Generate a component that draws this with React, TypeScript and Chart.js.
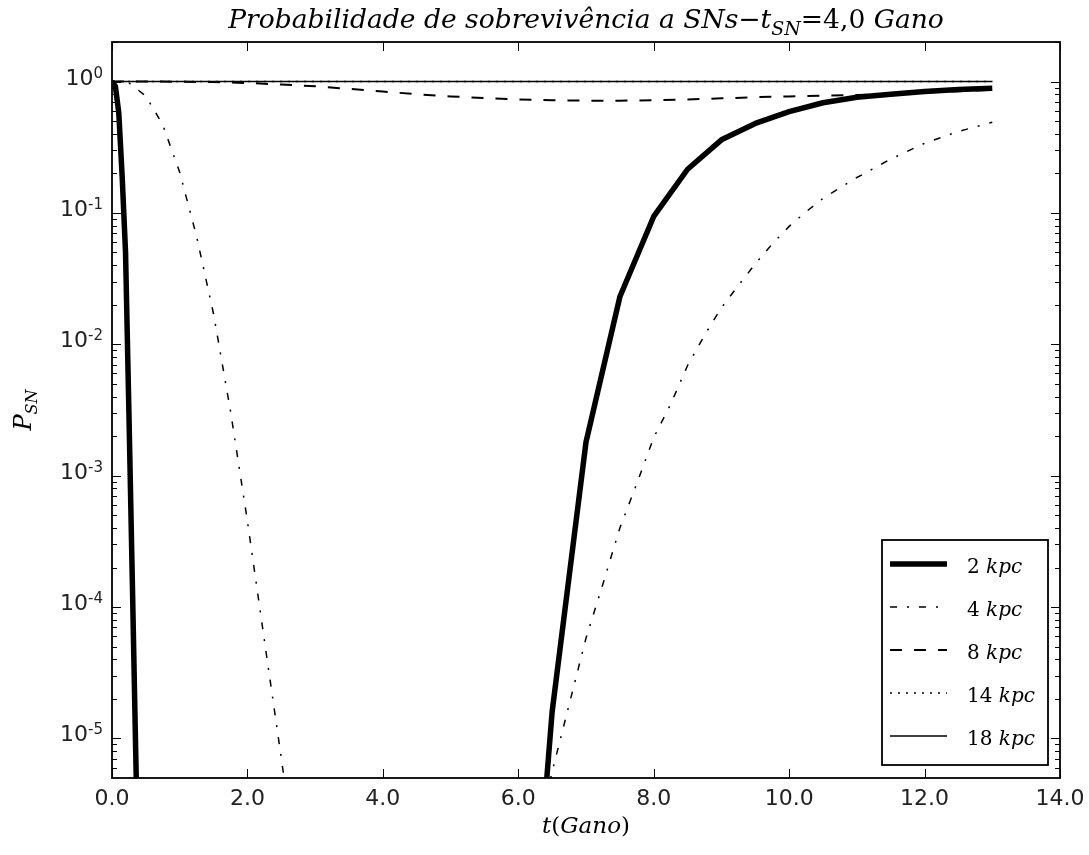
import React, { useEffect, useRef } from 'react';
import { Chart, registerables } from 'chart.js';

Chart.register(...registerables);

// ---------- data ----------
const seriesLabels = ['2', '4', '8', '14', '18'];

const t2 = [0, 0.05, 0.1, 0.15, 0.2, 0.25, 0.3, 0.35, 0.4, 0.5, 1, 3, 5, 6, 6.5, 7, 7.5, 8, 8.5, 9, 9.5, 10, 10.5, 11, 11.5, 12, 12.5, 13];
const p2 = [1, 0.92, 0.58, 0.19, 0.05, 3e-3, 1.6e-4, 8e-6, 4e-7, 1e-9, 1e-25, 1e-40, 1e-25, 1e-8, 1.6e-5, 1.8e-3, 0.023, 0.094, 0.215, 0.36, 0.48, 0.59, 0.69, 0.76, 0.8, 0.84, 0.87, 0.89];

const t4 = [0, 0.25, 0.5, 0.75, 1, 1.25, 1.5, 1.75, 2, 2.25, 2.5, 2.75, 3, 4, 5, 6, 6.25, 6.5, 6.75, 7, 7.25, 7.5, 7.75, 8, 8.25, 8.5, 8.75, 9, 9.25, 9.5, 9.75, 10, 10.25, 10.5, 10.75, 11, 11.5, 12, 12.5, 13];
const p4 = [1, 0.977, 0.776, 0.468, 0.204, 0.066, 0.017, 3.1e-3, 4.5e-4, 5.6e-5, 7.1e-6, 8e-7, 6e-8, 1e-14, 1e-13, 3.2e-7, 1.4e-6, 5.6e-6, 1.8e-5, 5.8e-5, 1.5e-4, 4e-4, 8.7e-4, 1.95e-3, 3.5e-3, 6.9e-3, 0.0117, 0.019, 0.028, 0.041, 0.058, 0.079, 0.102, 0.129, 0.155, 0.186, 0.257, 0.339, 0.417, 0.49];

const t8 = [0, 0.5, 1, 1.5, 2, 2.5, 3, 3.5, 4, 4.5, 5, 5.5, 6, 6.5, 7, 7.5, 8, 8.5, 9, 9.5, 10, 10.5, 11, 11.5, 12, 12.5, 13];
const p8 = [1, 1, 0.998, 0.99, 0.975, 0.95, 0.92, 0.88, 0.84, 0.8, 0.77, 0.75, 0.73, 0.72, 0.715, 0.715, 0.72, 0.73, 0.745, 0.76, 0.77, 0.78, 0.79, 0.805, 0.825, 0.845, 0.865];

const t14 = [0, 13];
const p14 = [1, 1];

const t18 = [0, 13];
const p18 = [1, 1];

const xTickValues = [0, 2, 4, 6, 8, 10, 12, 14];
const xTickLabels = ['0.0', '2.0', '4.0', '6.0', '8.0', '10.0', '12.0', '14.0'];
const yTickExponents = [0, -1, -2, -3, -4, -5];
const yTickLabels = ['0', '-1', '-2', '-3', '-4', '-5'];

const Y_MIN = 5e-6;
const Y_MAX = 2;

// ---------- styles ----------
const seriesStyles = [
  { width: 5.5, dash: [] as number[] },
  { width: 1.5, dash: [7, 10, 2, 10] },
  { width: 2, dash: [12, 12] },
  { width: 1.5, dash: [2, 6] },
  { width: 1.5, dash: [] as number[] },
];

const SANS = '"DejaVu Sans", sans-serif';
const SERIF = '"DejaVu Serif", serif';

type Seg = { text: string; font: string; dy?: number };

function segWidth(ctx: CanvasRenderingContext2D, segs: Seg[]) {
  let w = 0;
  for (const s of segs) {
    ctx.font = s.font;
    w += ctx.measureText(s.text).width;
  }
  return w;
}

function drawSegs(ctx: CanvasRenderingContext2D, segs: Seg[], x: number, y: number, align: 'left' | 'center' | 'right') {
  const w = segWidth(ctx, segs);
  let cx = align === 'left' ? x : align === 'center' ? x - w / 2 : x - w;
  ctx.textAlign = 'left';
  ctx.textBaseline = 'alphabetic';
  for (const s of segs) {
    ctx.font = s.font;
    ctx.fillText(s.text, cx, y + (s.dy || 0));
    cx += ctx.measureText(s.text).width;
  }
}

function titleSegs(size: number): Seg[] {
  const it = `italic ${size}px ${SERIF}`;
  const up = `${size}px ${SERIF}`;
  const sub = `italic ${Math.round(size * 0.7)}px ${SERIF}`;
  return [
    { text: 'Probabilidade de sobrevivência a SNs', font: it },
    { text: '−', font: up },
    { text: 't', font: it },
    { text: 'SN', font: sub, dy: size * 0.25 },
    { text: '=4,0 ', font: up },
    { text: 'Gano', font: it },
  ];
}

const decorPlugin = {
  id: 'mplDecor',
  afterDraw(chart: any) {
    const ctx: CanvasRenderingContext2D = chart.ctx;
    const ca = chart.chartArea;
    const xs = chart.scales.x;
    const ys = chart.scales.y;
    ctx.save();
    ctx.fillStyle = '#000';
    ctx.strokeStyle = '#000';

    // ticks
    ctx.lineWidth = 1;
    ctx.beginPath();
    xTickValues.forEach((v) => {
      const px = Math.round(xs.getPixelForValue(v)) + 0.5;
      ctx.moveTo(px, ca.bottom);
      ctx.lineTo(px, ca.bottom - 9);
      ctx.moveTo(px, ca.top);
      ctx.lineTo(px, ca.top + 9);
    });
    for (let e = -6; e <= 0; e++) {
      for (let k = 1; k <= 9; k++) {
        const v = k * Math.pow(10, e);
        if (v < Y_MIN || v > Y_MAX) continue;
        const py = Math.round(ys.getPixelForValue(v)) + 0.5;
        const len = k === 1 ? 9 : 5;
        ctx.moveTo(ca.left, py);
        ctx.lineTo(ca.left + len, py);
        ctx.moveTo(ca.right, py);
        ctx.lineTo(ca.right - len, py);
      }
    }
    ctx.stroke();

    // frame
    ctx.lineWidth = 1.8;
    ctx.strokeRect(ca.left, ca.top, ca.right - ca.left, ca.bottom - ca.top);

    // x tick labels
    ctx.font = `22px ${SANS}`;
    ctx.fillStyle = '#222';
    ctx.textAlign = 'center';
    ctx.textBaseline = 'alphabetic';
    xTickValues.forEach((v, i) => {
      ctx.fillText(xTickLabels[i], xs.getPixelForValue(v), ca.bottom + 27);
    });

    // y tick labels
    yTickExponents.forEach((e, i) => {
      const py = ys.getPixelForValue(Math.pow(10, e));
      const supFont = `15px ${SANS}`;
      ctx.font = supFont;
      const supW = ctx.measureText(yTickLabels[i]).width;
      const right = ca.left - 9;
      ctx.textAlign = 'right';
      ctx.fillText(yTickLabels[i], right, py - 4);
      ctx.font = `22px ${SANS}`;
      ctx.fillText('10', right - supW, py + 3);
    });

    // title
    ctx.fillStyle = '#000';
    const w0 = segWidth(ctx, titleSegs(24));
    const tsize = (24 * 716) / w0;
    drawSegs(ctx, titleSegs(tsize), (ca.left + ca.right) / 2, 28, 'center');

    // x label
    const xl = 23;
    drawSegs(
      ctx,
      [
        { text: 't', font: `italic ${xl}px ${SERIF}` },
        { text: '(', font: `${xl}px ${SERIF}` },
        { text: 'Gano', font: `italic ${xl}px ${SERIF}` },
        { text: ')', font: `${xl}px ${SERIF}` },
      ],
      (ca.left + ca.right) / 2,
      833,
      'center'
    );

    // y label
    ctx.save();
    ctx.translate(31, (ca.top + ca.bottom) / 2);
    ctx.rotate(-Math.PI / 2);
    drawSegs(
      ctx,
      [
        { text: 'P', font: `italic 24px ${SERIF}` },
        { text: 'SN', font: `italic 16px ${SERIF}`, dy: 6 },
      ],
      0,
      0,
      'center'
    );
    ctx.restore();

    // legend
    const lx0 = 882, ly0 = 540, lx1 = 1048, ly1 = 765;
    ctx.fillStyle = '#fff';
    ctx.fillRect(lx0, ly0, lx1 - lx0, ly1 - ly0);
    ctx.lineWidth = 1.8;
    ctx.strokeStyle = '#000';
    ctx.strokeRect(lx0, ly0, lx1 - lx0, ly1 - ly0);
    seriesLabels.forEach((lab, i) => {
      const rowY = 566 + i * 43;
      const st = seriesStyles[i];
      ctx.beginPath();
      ctx.lineWidth = st.width;
      ctx.setLineDash(st.dash);
      ctx.moveTo(890, rowY - 2);
      ctx.lineTo(947, rowY - 2);
      ctx.stroke();
      ctx.setLineDash([]);
      ctx.fillStyle = '#000';
      drawSegs(
        ctx,
        [
          { text: lab + ' ', font: `20px ${SERIF}` },
          { text: 'kpc', font: `italic 20px ${SERIF}` },
        ],
        967,
        rowY + 7,
        'left'
      );
    });

    ctx.restore();
  },
};

function mkData(ts: number[], ps: number[]) {
  return ts.map((t, i) => ({ x: t, y: ps[i] }));
}

export default function App() {
  const ref = useRef<HTMLCanvasElement | null>(null);
  useEffect(() => {
    if (!ref.current) return;
    const all = [
      [t2, p2],
      [t4, p4],
      [t8, p8],
      [t14, p14],
      [t18, p18],
    ];
    const chart = new Chart(ref.current, {
      type: 'line',
      data: {
        datasets: all.map(([ts, ps], i) => ({
          label: seriesLabels[i] + ' kpc',
          data: mkData(ts as number[], ps as number[]),
          borderColor: '#000',
          backgroundColor: '#000',
          borderWidth: seriesStyles[i].width,
          borderDash: seriesStyles[i].dash,
          borderJoinStyle: 'round',
          pointRadius: 0,
          fill: false,
          tension: 0,
        })),
      },
      options: {
        animation: false,
        responsive: true,
        maintainAspectRatio: false,
        devicePixelRatio: 1,
        layout: { padding: { left: 112, top: 42, right: 29, bottom: 77 } },
        plugins: { legend: { display: false }, tooltip: { enabled: false }, title: { display: false } },
        scales: {
          x: { type: 'linear', min: 0, max: 14, display: false },
          y: { type: 'logarithmic', min: Y_MIN, max: Y_MAX, display: false },
        },
        events: [],
      },
      plugins: [decorPlugin],
    } as any);
    return () => chart.destroy();
  }, []);
  return (
    <div style={{ position: 'fixed', left: 0, top: 0, width: 1089, height: 855, background: '#fff' }}>
      <canvas ref={ref} />
    </div>
  );
}
